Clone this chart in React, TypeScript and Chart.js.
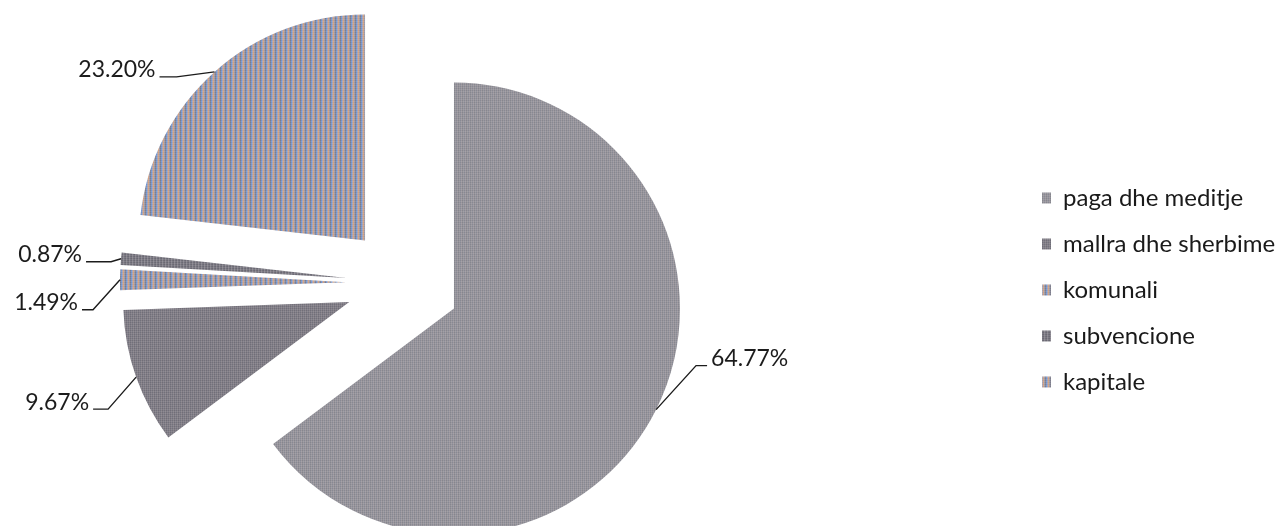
import React, { useEffect, useRef } from 'react';
import { Chart, registerables } from 'chart.js';

Chart.register(...registerables);

const CATEGORIES = ['paga dhe meditje', 'mallra dhe sherbime', 'komunali', 'subvencione', 'kapitale'];
const VALUES = [64.77, 9.67, 1.49, 0.87, 23.2];
const VALUE_LABELS = ['64.77%', '9.67%', '1.49%', '0.87%', '23.20%'];

// texture columns for each slice (scanned halftone look)
const STRIPES = [
  ['#86868e', '#99969c', '#888993', '#9c979d'],
  ['#706e78', '#837e87', '#72717b', '#868188'],
  ['#6f93d2', '#a5a3b3', '#d29f80', '#9a9aa9', '#7d7d8c'],
  ['#6b6973', '#87848d', '#71707a'],
  ['#6f93d2', '#a5a3b3', '#d29f80', '#9a9aa9', '#7d7d8c'],
];

// leader line shape relative to the slice edge: [elbow dx, elbow dy, end dx]
const LEADERS = [
  [40, -44, 51],
  [-28, 32, -43],
  [-27, 30, -38],
  [-10, 3, -35],
  [-38, 5, -55],
];

const EXPLODE = 57;
const RADIUS = 226;
const FONT = 'Lato';
const LABEL_SIZE = 23;
const LEGEND_SIZE = 24;
const LEGEND_PAD = 22;
const BOX_W = 9;

function makePattern(cols: string[]): CanvasPattern | string {
  const c = document.createElement('canvas');
  c.width = cols.length;
  c.height = 2;
  const g = c.getContext('2d');
  if (!g) return cols[0];
  cols.forEach((col, i) => {
    g.fillStyle = col;
    g.fillRect(i, 0, 1, 2);
  });
  g.fillStyle = 'rgba(255,255,255,0.10)';
  g.fillRect(0, 1, cols.length, 1);
  return g.createPattern(c, 'repeat') || cols[0];
}

// pull every slice out from the centre along its middle angle
const explode = {
  id: 'explode',
  beforeDatasetsDraw(chart: any) {
    const { chartArea } = chart;
    const cx = (chartArea.left + chartArea.right) / 2;
    const cy = (chartArea.top + chartArea.bottom) / 2;
    const meta = chart.getDatasetMeta(0);
    meta.data.forEach((arc: any) => {
      const mid = (arc.startAngle + arc.endAngle) / 2;
      arc.x = cx + Math.cos(mid) * EXPLODE;
      arc.y = cy + Math.sin(mid) * EXPLODE;
    });
  },
};

const leaderLabels = {
  id: 'leaderLabels',
  afterDatasetsDraw(chart: any) {
    const ctx = chart.ctx;
    const meta = chart.getDatasetMeta(0);
    ctx.save();
    ctx.strokeStyle = '#1c1c1c';
    ctx.fillStyle = '#1c1c1c';
    ctx.lineWidth = 1.4;
    ctx.font = `${LABEL_SIZE}px ${FONT}`;
    ctx.textBaseline = 'middle';
    meta.data.forEach((arc: any, i: number) => {
      const mid = (arc.startAngle + arc.endAngle) / 2;
      const ax = arc.x + Math.cos(mid) * arc.outerRadius;
      const ay = arc.y + Math.sin(mid) * arc.outerRadius;
      const [ex, ey, hx] = LEADERS[i];
      const bx = ax + ex;
      const by = ay + ey;
      const cx = ax + hx;
      ctx.beginPath();
      ctx.moveTo(ax, ay);
      ctx.lineTo(bx, by);
      ctx.lineTo(cx, by);
      ctx.stroke();
      const right = hx > 0;
      ctx.textAlign = right ? 'left' : 'right';
      ctx.fillText(VALUE_LABELS[i], cx + (right ? 4 : -4), by - 7);
    });
    ctx.restore();
  },
};

export default function App() {
  const ref = useRef<HTMLCanvasElement>(null);

  useEffect(() => {
    const canvas = ref.current;
    if (!canvas) return;
    const m = document.createElement('canvas').getContext('2d');
    let maxW = 213;
    if (m) {
      m.font = `${LEGEND_SIZE}px ${FONT}`;
      maxW = Math.max(...CATEGORIES.map((c) => m.measureText(c).width));
    }
    const lw = LEGEND_PAD + BOX_W + LEGEND_SIZE / 2 + maxW + 10;
    const R = Math.max(0, 1286 - 1042 + LEGEND_PAD - lw);
    const L = Math.round(1286 - 403 * 2 - R - lw);
    canvas.width = 1286 + L;
    canvas.height = 566;
    canvas.style.left = `${-L}px`;

    Chart.defaults.font.family = FONT;
    const chart = new Chart(canvas, {
      type: 'pie',
      data: {
        labels: CATEGORIES,
        datasets: [
          {
            data: VALUES,
            backgroundColor: STRIPES.map(makePattern) as any,
            borderWidth: 0,
            offset: 0,
            hoverOffset: 0,
            clip: false as any,
          },
        ],
      },
      options: {
        responsive: false,
        devicePixelRatio: 1,
        animation: false,
        radius: RADIUS,
        layout: { padding: { right: R } },
        plugins: {
          tooltip: { enabled: false },
          legend: {
            position: 'right',
            align: 'center',
            title: { display: true, text: '', padding: 0, font: { size: 14, lineHeight: 1 } },
            labels: {
              boxWidth: BOX_W,
              boxHeight: 11,
              padding: LEGEND_PAD,
              color: '#1a1a1a',
              font: { family: FONT, size: LEGEND_SIZE },
            },
          },
        },
      } as any,
      plugins: [explode, leaderLabels],
    });
    return () => chart.destroy();
  }, []);

  return (
    <div
      style={{
        position: 'absolute',
        left: 0,
        top: 0,
        width: 1286,
        height: 526,
        overflow: 'hidden',
        background: '#ffffff',
      }}
    >
      <canvas ref={ref} style={{ position: 'absolute', top: 0 }} />
    </div>
  );
}
